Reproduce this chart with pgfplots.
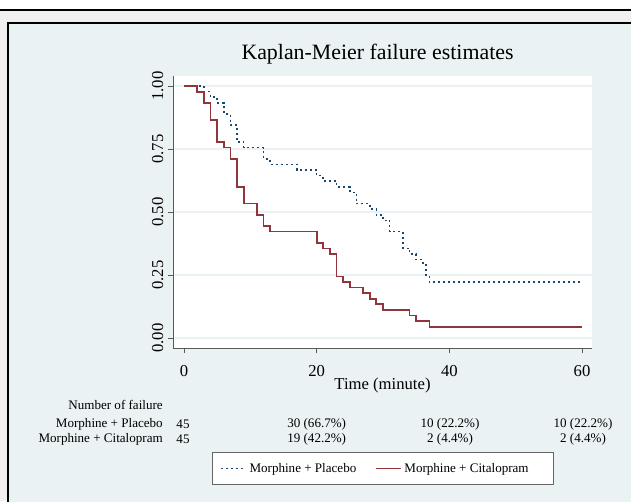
\documentclass[border=0pt]{standalone}
\usepackage{pgfplots}
\pgfplotsset{compat=1.18}
\usepackage{pgfplotstable}
\usepackage{fontspec}
\setmainfont{Liberation Serif}

\definecolor{bgout}{RGB}{240,240,240}
\definecolor{ltbluishgray}{RGB}{234,242,243}
\definecolor{navy}{RGB}{26,71,111}
\definecolor{maroon}{RGB}{144,53,59}
\newcommand{\tbl}{\fontsize{9.8}{11}\selectfont}

% survival steps, 45 patients per arm
\pgfplotstableread{
t s
0 1
3 0.9778
4 0.9556
5 0.9333
6 0.8889
7 0.8444
8 0.7778
9 0.7556
12 0.7111
13 0.6889
17 0.6667
20 0.6444
21 0.6222
23 0.6
25 0.5778
26 0.5333
28 0.5111
29 0.4889
30 0.4667
31 0.4222
33 0.3556
34 0.3333
35 0.3111
36 0.2889
36.5 0.2444
37 0.2222
60 0.2222
}\placebo

\pgfplotstableread{
t s
0 1
2 0.9778
3 0.9333
4 0.8667
5 0.7778
6 0.7556
7 0.7111
8 0.6
9 0.5333
11 0.4889
12 0.4444
13 0.4222
20 0.3778
21 0.3556
22 0.3333
23 0.2444
24 0.2222
25 0.2
27 0.1778
28 0.1556
29 0.1333
30 0.1111
34 0.0889
35 0.0667
37 0.0444
60 0.0444
}\citalopram

\begin{document}
\begin{tikzpicture}[x=0.75pt,y=0.75pt]
\path[use as bounding box] (0,0) rectangle (631,501);
\fill[white] (0,0) rectangle (631,501);
\fill[bgout] (0,0) rectangle (631,490);
\draw[black, line width=1.5pt] (0,491) -- (631,491);
\filldraw[fill=ltbluishgray, draw=black, line width=1.1pt] (8,478) rectangle (650,-20);

\begin{axis}[
  at={(129.75pt,114.75pt)}, anchor=south west,
  scale only axis, width=314.25pt, height=204pt,
  xmin=-1.65, xmax=61.5, ymin=-0.04, ymax=1.04,
  axis lines*=left,
  axis line style={black!65, line width=0.6pt},
  axis background/.style={fill=white},
  xtick={0,20,40,60},
  ytick={0,0.25,0.5,0.75,1},
  yticklabels={0.00,0.25,0.50,0.75,1.00},
  tick align=outside, major tick length=3.75pt,
  tick style={black!65, line width=0.6pt},
  ymajorgrids, grid style={ltbluishgray, line width=1.2pt},
  /pgf/number format/assume math mode=true,
  tick label style={font=\fontsize{12.5}{14}\selectfont},
  xticklabel style={yshift=-6pt},
  yticklabel style={rotate=90, anchor=south},
  title={Kaplan-Meier failure estimates},
  title style={at={(axis description cs:0.5,1)}, anchor=center, yshift=10.5pt, xshift=-3.75pt, font=\fontsize{16.4}{18}\selectfont},
  xlabel={Time (minute)},
  xlabel style={at={(axis description cs:0.5,0)}, anchor=center, yshift=-27.75pt, font=\fontsize{12.5}{14}\selectfont},
  legend columns=2,
  legend image code/.code={\draw[#1] (0pt,0pt) -- (18.75pt,0pt);},
  legend style={at={(axis description cs:0.0931,-0.3824)}, anchor=north west,
    draw=black!60, fill=white, font=\tbl, inner xsep=6pt, inner ysep=6pt,
    /tikz/every even column/.append style={column sep=12pt}},
]
\addplot[const plot, mark=none, navy, line width=1.2pt, dash pattern=on 1.5pt off 2.25pt] table[x=t, y=s] {\placebo};
\addlegendentry{Morphine + Placebo}
\addplot[const plot, mark=none, maroon, line width=1.3pt] table[x=t, y=s] {\citalopram};
\addlegendentry{Morphine + Citalopram\hspace*{10.5pt}\mbox{}}
\end{axis}

\node[anchor=east, font=\tbl, inner sep=0pt] at (163,96) {Number of failure};
\node[anchor=east, font=\tbl, inner sep=0pt] at (163,76.7) {Morphine + Placebo};
\node[anchor=east, font=\tbl, inner sep=0pt] at (163,61.7) {Morphine + Citalopram};
\foreach \x/\a/\b in {183/45/45, 316.7/30 (66.7\%)/19 (42.2\%), 450/10 (22.2\%)/2 (4.4\%), 583/10 (22.2\%)/2 (4.4\%)} {
  \node[font=\tbl, inner sep=0pt] at (\x,76.7) {\a};
  \node[font=\tbl, inner sep=0pt] at (\x,61.7) {\b};
}
\end{tikzpicture}
\end{document}
